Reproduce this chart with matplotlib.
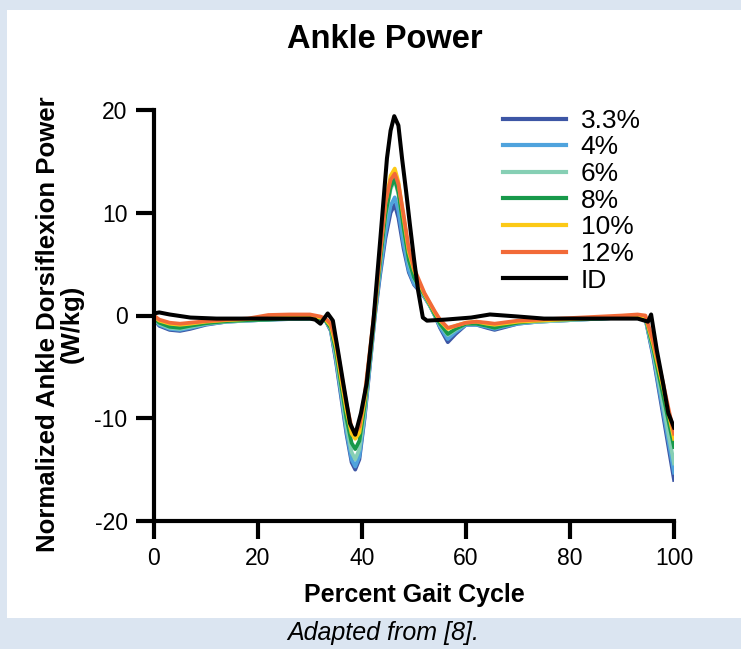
import matplotlib
matplotlib.use("Agg")
import matplotlib.pyplot as plt
from matplotlib.patches import Rectangle

plt.rcParams['font.family'] = ['Liberation Sans', 'DejaVu Sans']

# ---- data ----
X = [0, 1, 3, 5, 7, 10, 14, 18, 22, 26, 30, 32, 33, 34, 35, 36, 37, 38, 38.7,
     39.5, 40.5, 41.5, 42.5, 43.5, 44.5, 45.5, 46.3, 47, 48, 49, 50, 51, 52, 53,
     54, 55, 56.5, 58, 60, 62, 64, 65.5, 67, 70, 74, 78, 82, 86, 90, 93, 94.5,
     96, 97, 98, 99, 100]

s33 = [-0.3, -1.0, -1.4, -1.5, -1.3, -0.9, -0.6, -0.5, -0.4, -0.35, -0.3, -0.3, -0.5,
       -1.5, -4.5, -8.0, -11.5, -14.3, -15.0, -14.0, -10.0, -5.0, 0.0, 4.0, 7.5, 10.0,
       10.8, 9.5, 6.5, 4.2, 3.0, 2.4, 1.8, 1.0, 0.0, -1.2, -2.6, -1.8, -0.9, -0.9, -1.2,
       -1.4, -1.2, -0.8, -0.6, -0.5, -0.4, -0.3, -0.2, -0.1, -0.3, -4.0, -7.0, -10.0,
       -13.0, -16.0]
s4 = [-0.3, -0.9, -1.3, -1.4, -1.2, -0.85, -0.6, -0.5, -0.4, -0.35, -0.3, -0.3, -0.5,
      -1.4, -4.3, -7.7, -11.2, -14.0, -14.7, -13.7, -9.8, -4.8, 0.2, 4.3, 8.0, 10.7,
      11.5, 10.2, 7.0, 4.4, 3.1, 2.5, 1.8, 1.0, 0.0, -1.1, -2.3, -1.6, -0.9, -0.9, -1.1,
      -1.3, -1.1, -0.8, -0.6, -0.5, -0.4, -0.3, -0.2, -0.1, -0.3, -3.8, -6.7, -9.5,
      -12.4, -15.3]
s6 = [-0.3, -0.8, -1.2, -1.3, -1.1, -0.8, -0.6, -0.5, -0.4, -0.3, -0.3, -0.3, -0.5,
      -1.3, -4.0, -7.3, -10.7, -13.3, -14.0, -13.0, -9.3, -4.5, 0.4, 5.0, 9.5, 12.3,
      13.2, 11.8, 8.3, 5.2, 3.6, 2.7, 1.9, 1.0, 0.0, -0.9, -1.9, -1.4, -0.8, -0.8, -1.0,
      -1.2, -1.0, -0.7, -0.6, -0.5, -0.4, -0.3, -0.2, -0.1, -0.3, -3.5, -6.2, -8.9,
      -11.7, -14.4]
s8 = [-0.2, -0.7, -1.1, -1.2, -1.0, -0.75, -0.55, -0.45, -0.4, -0.3, -0.3, -0.3, -0.5,
      -1.2, -3.5, -6.8, -10.0, -12.4, -13.0, -12.2, -8.8, -4.2, 0.5, 5.3, 9.8, 12.5,
      13.3, 12.0, 8.5, 5.4, 3.7, 2.8, 2.0, 1.1, 0.1, -0.8, -1.8, -1.3, -0.8, -0.8, -1.0,
      -1.2, -1.0, -0.7, -0.5, -0.4, -0.35, -0.3, -0.2, -0.1, -0.2, -3.2, -5.6, -8.0,
      -10.4, -12.8]
s10 = [-0.1, -0.5, -0.8, -0.9, -0.8, -0.6, -0.45, -0.35, -0.2, -0.1, -0.1, -0.2, -0.4,
       -1.0, -3.0, -6.2, -9.2, -11.5, -12.0, -11.4, -8.2, -3.8, 0.8, 6.0, 11.0, 13.6,
       14.3, 13.0, 9.5, 6.2, 4.4, 3.2, 2.1, 1.2, 0.3, -0.5, -1.3, -1.0, -0.7, -0.6, -0.8,
       -0.9, -0.8, -0.6, -0.5, -0.4, -0.3, -0.2, -0.1, 0.0, -0.1, -2.8, -5.0, -7.2,
       -9.6, -12.0]
s12 = [0.0, -0.4, -0.7, -0.8, -0.7, -0.55, -0.4, -0.3, 0.05, 0.1, 0.1, -0.1, -0.3,
       -0.8, -2.5, -5.6, -8.6, -10.9, -11.4, -10.8, -7.8, -3.5, 1.0, 6.0, 11.0, 13.2,
       13.8, 12.8, 9.8, 6.5, 4.6, 3.4, 2.2, 1.3, 0.4, -0.4, -1.2, -1.0, -0.7, -0.6, -0.7,
       -0.8, -0.7, -0.5, -0.4, -0.3, -0.2, -0.1, 0.0, 0.1, 0.0, -2.5, -4.6, -6.8, -9.2,
       -11.5]

id_x = [0, 1, 3, 7, 12, 20, 26, 30, 31, 32, 33.4, 34.4, 35.4, 36.4, 37.7, 38.7, 39.8,
        40.9, 42.2, 43.5, 44.8, 45.5, 46.2, 47, 47.7, 48.5, 49.2, 50, 50.8, 51.7, 52.5,
        56, 61, 64.6, 70, 75, 80, 85, 90, 93, 95, 95.6, 96.7, 97.9, 98.9, 100]
id_y = [0.2, 0.3, 0.1, -0.2, -0.3, -0.3, -0.3, -0.3, -0.4, -0.8, 0.2, -0.5, -3.5, -6.6,
        -10.5, -11.6, -9.5, -6.6, -0.5, 7.3, 15.3, 18.0, 19.4, 18.5, 15.3, 12.0, 8.9,
        5.5, 2.4, -0.2, -0.5, -0.4, -0.2, 0.1, -0.1, -0.3, -0.3, -0.3, -0.3, -0.3, -0.6,
        0.1, -3.4, -6.6, -9.5, -10.9]

labels = ['3.3%', '4%', '6%', '8%', '10%', '12%', 'ID']
colors = ['#3d56a5', '#4fa3dd', '#86cfb4', '#17994a', '#fcc916', '#f26a38', '#000000']
xticks = [0, 20, 40, 60, 80, 100]
yticks = [-20, -10, 0, 10, 20]

# ---- figure ----
fig = plt.figure(figsize=(7.41, 6.49), dpi=100, facecolor='#dbe5f1')
fig.patches.append(Rectangle((7 / 741, 1 - 618 / 649), 1 - 7 / 741, (618 - 10) / 649,
                             transform=fig.transFigure, facecolor='white',
                             edgecolor='none', zorder=-10))

ax = fig.add_axes([154 / 741, 1 - 521 / 649, 520 / 741, 411 / 649])
ax.set_facecolor('none')
ax.set_zorder(5)

series = [s33, s4, s6, s8, s10, s12]
for ys, c, lab in zip(series, colors[:6], labels[:6]):
    ax.plot(X, ys, color=c, lw=2.7, label=lab, solid_joinstyle='round')
ax.plot(id_x, id_y, color=colors[6], lw=2.9, label=labels[6], solid_joinstyle='round')

ax.set_xlim(0, 100)
ax.set_ylim(-20, 20)
ax.set_xticks(xticks)
ax.set_yticks(yticks)
ax.set_xticklabels([str(t) for t in xticks])
ax.set_yticklabels([str(t) for t in yticks])
for s in ['top', 'right']:
    ax.spines[s].set_visible(False)
for s in ['left', 'bottom']:
    ax.spines[s].set_linewidth(3)
    ax.spines[s].set_capstyle('projecting')
ax.tick_params(axis='both', width=3, length=13, labelsize=16.5, pad=6, colors='black')

ax.set_xlabel('Percent Gait Cycle', fontsize=18, fontweight='bold', labelpad=9)
ax.set_ylabel('Normalized Ankle Dorsiflexion Power\n(W/kg)', fontsize=18.5,
              fontweight='bold', linespacing=0.95, labelpad=8)
ax.yaxis.label.set_y(0.48)

leg = ax.legend(loc='upper left', bbox_to_anchor=(0.671, 1.003), frameon=False,
                fontsize=19, handlelength=2.4, handletextpad=0.55, labelspacing=0.1,
                borderpad=0, borderaxespad=0)
for h in leg.get_lines():
    h.set_linewidth(3)

fig.text(385 / 741, 1 - 40 / 649, 'Ankle Power', ha='center', va='center',
         fontsize=23.5, fontweight='bold')
fig.text(383 / 741, 1 - 633 / 649, 'Adapted from [8].', ha='center', va='center',
         fontsize=18, style='italic')

fig.savefig('out.png', dpi=100, facecolor=fig.get_facecolor())
